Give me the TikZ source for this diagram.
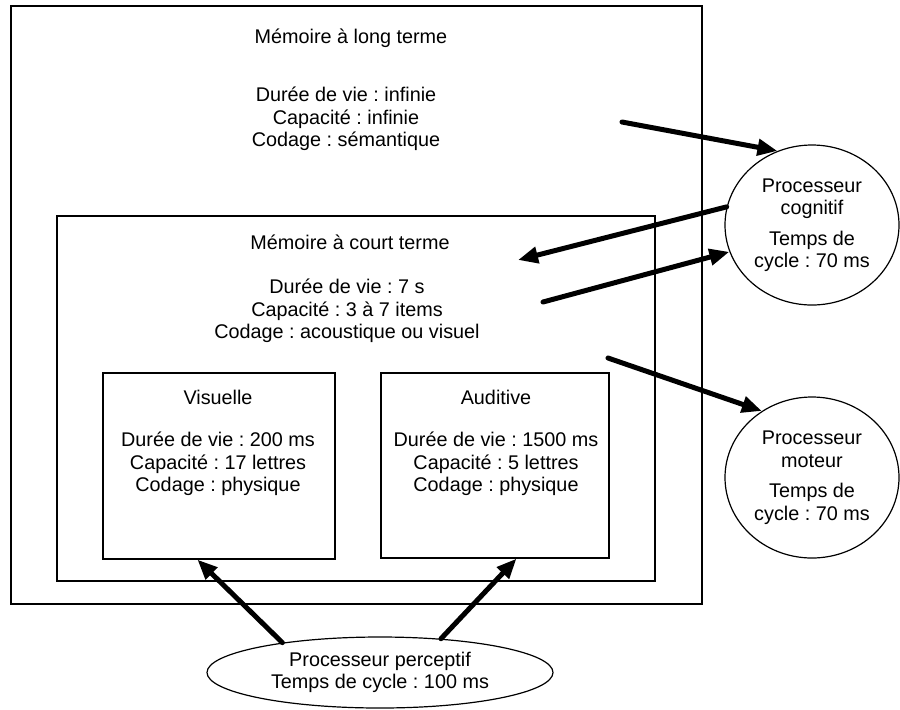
\documentclass[tikz,border=0pt]{standalone}
\usepackage{fontspec}
\setmainfont{Liberation Sans}
\frenchspacing
\usetikzlibrary{positioning,fit,shapes.geometric,arrows.meta}
\tikzset{
cogpic/.style={
  x=0.5pt,y=-0.5pt
    ,font=\fontsize{9.9}{11.25}\selectfont
}
,memorybox/.style={draw=black,line width=.6pt,inner sep=0pt}
,memtitle/.style={inner sep=0pt,align=center}
,memtext/.style={memtitle}
,processor/.style={ellipse,draw=black,line width=.6pt
  ,inner sep=0pt,align=center}
,flow/.style={line width=2.5pt,line cap=round
  ,-{Triangle[length=10pt,width=8pt]}}
}
\begin{document}
\begin{tikzpicture}[cogpic]
  \useasboundingbox (0,0) rectangle (900,709);
  % long term memory
  \node[memorybox,fit={(11,6) (702,604)}] (ltm) {};
  \node[memtitle] (ltmtitle) at (351,38) {Mémoire à long terme};
  \node[memtext] (ltmtext) at (346,119)
    {Durée de vie : infinie\\Capacité : infinie\\Codage : sémantique};
  % short term memory
  \node[memorybox,fit={(57,216) (655,581)}] (stm) {};
  \node[memtitle] (stmtitle) at (350,242) {Mémoire à court terme};
  \node[memtext] (stmtext) at (347,311)
    {Durée de vie : 7 s\\Capacité : 3 à 7 items\\Codage : acoustique ou visuel};
  % sensory stores
  \node[memorybox,fit={(103,373) (335,559)}] (vis) {};
  \node[memtitle] (vistitle) at (218,397) {Visuelle};
  \node[memtext] (vistext) at (218,464)
    {Durée de vie : 200 ms\\Capacité : 17 lettres\\Codage : physique};
  \node[memorybox,fit={(381,373) (609,558)}] (aud) {};
  \node[memtitle] (audtitle) at (496,397) {Auditive};
  \node[memtext] (audtext) at (496,464)
    {Durée de vie : 1500 ms\\Capacité : 5 lettres\\Codage : physique};
  % processors
  \node[processor,minimum width=87pt,minimum height=80pt] (cog) at (812,225)
    {Processeur\\cognitif\\[4pt]Temps de\\cycle : 70 ms};
  \node[processor,minimum width=87pt,minimum height=80.5pt] (mot) at (812,477.5)
    {Processeur\\moteur\\[4pt]Temps de\\cycle : 70 ms};
  \node[processor,minimum width=173pt,minimum height=35.5pt] (per) at (380,672.5)
    {Processeur perceptif\\Temps de cycle : 100 ms};
  % flows
  \coordinate (ltmtail) at (622,122);
  \coordinate (stmhead) at (518,260);
  \coordinate (stmtail) at (543,302);
  \coordinate (stmtailb) at (608,358);
  \draw[flow] (ltmtail) -- (cog.115);
  \draw[flow] (cog.168.6) -- (stmhead);
  \draw[flow] (stmtail) -- (cog.198.2);
  \draw[flow] (stmtailb) -- (mot.127.4);
  \draw[flow] (per.163) -- (vis.257.3);
  \draw[flow] (per.29.9) -- (aud.283.2);
\end{tikzpicture}
\end{document}
